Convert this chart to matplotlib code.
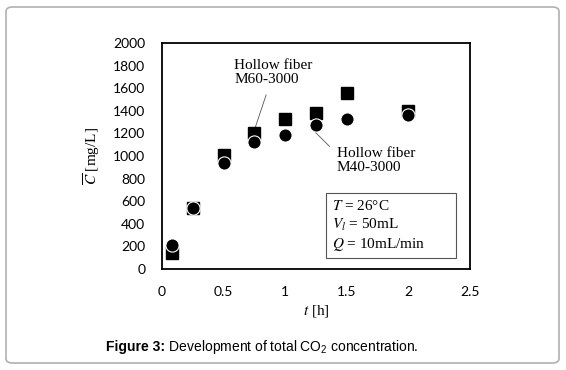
import matplotlib
matplotlib.use("Agg")
import matplotlib.pyplot as plt
from matplotlib.patches import FancyBboxPatch, Rectangle

# time [h]
t = [0.083, 0.25, 0.5, 0.75, 1.0, 1.25, 1.5, 2.0]
# total CO2 concentration [mg/L]
c_m60 = [140, 540, 1010, 1200, 1330, 1380, 1555, 1400]
c_m40 = [210, 540, 940, 1120, 1190, 1270, 1330, 1360]

x_ticks = [0, 0.5, 1, 1.5, 2, 2.5]
x_tick_labels = ["0", "0.5", "1", "1.5", "2", "2.5"]
y_ticks = list(range(0, 2001, 200))

serif = ["Liberation Serif", "DejaVu Serif"]
plt.rcParams["mathtext.rm"] = "Liberation Sans"
plt.rcParams["mathtext.it"] = "Liberation Sans:italic"
plt.rcParams["mathtext.bf"] = "Liberation Sans:bold"

fig = plt.figure(figsize=(5.66, 3.70), dpi=100)

# rounded outer frame
frame = FancyBboxPatch((6 / 566, 7 / 370), 553 / 566, 356 / 370,
                       boxstyle="round,pad=0,rounding_size=0.012",
                       transform=fig.transFigure, facecolor="none",
                       edgecolor="#b0b0b0", linewidth=1.2)
fig.patches.append(frame)

ax = fig.add_axes([162 / 566, 101 / 370, 308 / 566, 226 / 370])
ax.plot(t, c_m60, linestyle="none", marker="s", markersize=8.5,
        color="black", markeredgecolor="black", zorder=3)
ax.plot(t, c_m40, linestyle="none", marker="o", markersize=9.5,
        color="black", markeredgecolor="white", markeredgewidth=0.8, zorder=4)

ax.set_xlim(0, 2.5)
ax.set_ylim(0, 2000)
ax.set_xticks(x_ticks)
ax.set_xticklabels(x_tick_labels)
ax.set_yticks(y_ticks)
ax.tick_params(length=0, labelsize=10, pad=12)
for lab in ax.get_xticklabels() + ax.get_yticklabels():
    lab.set_family("Lato")
for sp in ax.spines.values():
    sp.set_linewidth(1.3)

ax.set_xlabel(r"$t$ [h]", family=serif, fontsize=11, math_fontfamily="stix",
              labelpad=4)
ax.set_ylabel(r"$\overline{C}$ [mg/L]", family=serif, fontsize=11,
              math_fontfamily="stix", labelpad=8)

# annotations
ax.text(0.585, 1860, "Hollow fiber\nM60-3000", family=serif, fontsize=11,
        va="top", ha="left", linespacing=1.15)
ax.plot([0.845, 0.75], [1540, 1230], color="#555555", linewidth=0.6)
ax.text(1.42, 1080, "Hollow fiber\nM40-3000", family=serif, fontsize=11,
        va="top", ha="left", linespacing=1.15)
ax.plot([1.24, 1.36], [1215, 1085], color="#555555", linewidth=0.6)

ax.add_patch(Rectangle((1.33, 97), 1.06, 576, facecolor="white",
                       edgecolor="#555555", linewidth=0.8, zorder=2))
ax.text(1.38, 620, "$T$ = 26\u00b0C\n$V_l$ = 50mL\n$Q$ = 10mL/min",
        family=serif, fontsize=11, math_fontfamily="stix", va="top",
        ha="left", linespacing=1.3, zorder=3)

# caption: bold part followed by normal part
cap_y = 1 - 347 / 370
cap_left = 106 / 566
bold = fig.text(cap_left, cap_y, "Figure 3:", family="Liberation Sans",
                weight="bold", fontsize=10, ha="left", va="center")
fig.canvas.draw()
bb = bold.get_window_extent().transformed(fig.transFigure.inverted())
fig.text(bb.x1, cap_y, " Development of total CO$_2$ concentration.",
         family="Liberation Sans", math_fontfamily="custom", fontsize=10,
         ha="left", va="center")

fig.savefig("out.png", dpi=100)
